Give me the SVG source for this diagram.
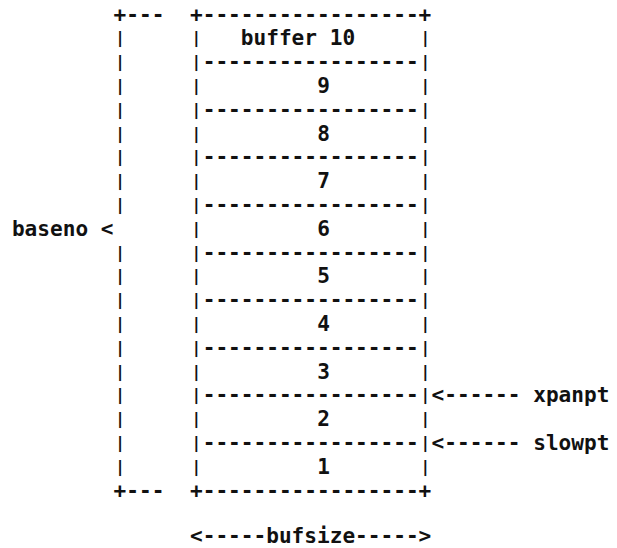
<svg xmlns="http://www.w3.org/2000/svg" width="617" height="548" viewBox="0 0 617 548">
<style>
text{font-family:"DejaVu Sans Mono","Liberation Mono",monospace;font-weight:bold;font-size:21.1px;fill:#111;dominant-baseline:central;white-space:pre}
.m{text-anchor:middle}
.bar{text-anchor:middle;font-size:16px}
</style>
<rect width="617" height="548" fill="#fff"/>
<g id="baseno-bracket">
<text x="113.6" y="14">+---</text>
<text x="113.6" y="490">+---</text>
<text class="bar" x="120" y="37.8">|</text>
<text class="bar" x="120" y="61.6">|</text>
<text class="bar" x="120" y="85.4">|</text>
<text class="bar" x="120" y="109.2">|</text>
<text class="bar" x="120" y="133">|</text>
<text class="bar" x="120" y="156.8">|</text>
<text class="bar" x="120" y="180.6">|</text>
<text class="bar" x="120" y="204.4">|</text>
<text x="11.9" y="228.2">baseno &lt;</text>
<text class="bar" x="120" y="252">|</text>
<text class="bar" x="120" y="275.8">|</text>
<text class="bar" x="120" y="299.6">|</text>
<text class="bar" x="120" y="323.4">|</text>
<text class="bar" x="120" y="347.2">|</text>
<text class="bar" x="120" y="371">|</text>
<text class="bar" x="120" y="394.8">|</text>
<text class="bar" x="120" y="418.6">|</text>
<text class="bar" x="120" y="442.4">|</text>
<text class="bar" x="120" y="466.2">|</text>
</g>
<g id="buffer-stack">
<text x="190" y="14">+-----------------+</text>
<text x="190" y="490">+-----------------+</text>
<text x="202.7" y="61.6">-----------------</text>
<text x="202.7" y="109.2">-----------------</text>
<text x="202.7" y="156.8">-----------------</text>
<text x="202.7" y="204.4">-----------------</text>
<text x="202.7" y="252">-----------------</text>
<text x="202.7" y="299.6">-----------------</text>
<text x="202.7" y="347.2">-----------------</text>
<text x="202.7" y="394.8">-----------------</text>
<text x="202.7" y="442.4">-----------------</text>
<text class="bar" x="196.3" y="61.6">|</text><text class="bar" x="425.3" y="61.6">|</text>
<text class="bar" x="196.3" y="109.2">|</text><text class="bar" x="425.3" y="109.2">|</text>
<text class="bar" x="196.3" y="156.8">|</text><text class="bar" x="425.3" y="156.8">|</text>
<text class="bar" x="196.3" y="204.4">|</text><text class="bar" x="425.3" y="204.4">|</text>
<text class="bar" x="196.3" y="252">|</text><text class="bar" x="425.3" y="252">|</text>
<text class="bar" x="196.3" y="299.6">|</text><text class="bar" x="425.3" y="299.6">|</text>
<text class="bar" x="196.3" y="347.2">|</text><text class="bar" x="425.3" y="347.2">|</text>
<text class="bar" x="196.3" y="394.8">|</text><text class="bar" x="425.3" y="394.8">|</text>
<text class="bar" x="196.3" y="442.4">|</text><text class="bar" x="425.3" y="442.4">|</text>
</g>
<g id="buffer-10"><text class="bar" x="196.3" y="37.8">|</text><text x="240.8" y="37.8">buffer 10</text><text class="bar" x="425.3" y="37.8">|</text></g>
<g id="buffer-9"><text class="bar" x="196.3" y="85.4">|</text><text class="m" x="323.5" y="85.4">9</text><text class="bar" x="425.3" y="85.4">|</text></g>
<g id="buffer-8"><text class="bar" x="196.3" y="133">|</text><text class="m" x="323.5" y="133">8</text><text class="bar" x="425.3" y="133">|</text></g>
<g id="buffer-7"><text class="bar" x="196.3" y="180.6">|</text><text class="m" x="323.5" y="180.6">7</text><text class="bar" x="425.3" y="180.6">|</text></g>
<g id="buffer-6"><text class="bar" x="196.3" y="228.2">|</text><text class="m" x="323.5" y="228.2">6</text><text class="bar" x="425.3" y="228.2">|</text></g>
<g id="buffer-5"><text class="bar" x="196.3" y="275.8">|</text><text class="m" x="323.5" y="275.8">5</text><text class="bar" x="425.3" y="275.8">|</text></g>
<g id="buffer-4"><text class="bar" x="196.3" y="323.4">|</text><text class="m" x="323.5" y="323.4">4</text><text class="bar" x="425.3" y="323.4">|</text></g>
<g id="buffer-3"><text class="bar" x="196.3" y="371">|</text><text class="m" x="323.5" y="371">3</text><text class="bar" x="425.3" y="371">|</text></g>
<g id="buffer-2"><text class="bar" x="196.3" y="418.6">|</text><text class="m" x="323.5" y="418.6">2</text><text class="bar" x="425.3" y="418.6">|</text></g>
<g id="buffer-1"><text class="bar" x="196.3" y="466.2">|</text><text class="m" x="323.5" y="466.2">1</text><text class="bar" x="425.3" y="466.2">|</text></g>
<g id="connectors">
<text x="431.6" y="394.8">&lt;------ xpanpt</text>
<text x="431.6" y="442.4">&lt;------ slowpt</text>
<text x="190" y="535.3">&lt;-----bufsize-----&gt;</text>
</g>
</svg>
